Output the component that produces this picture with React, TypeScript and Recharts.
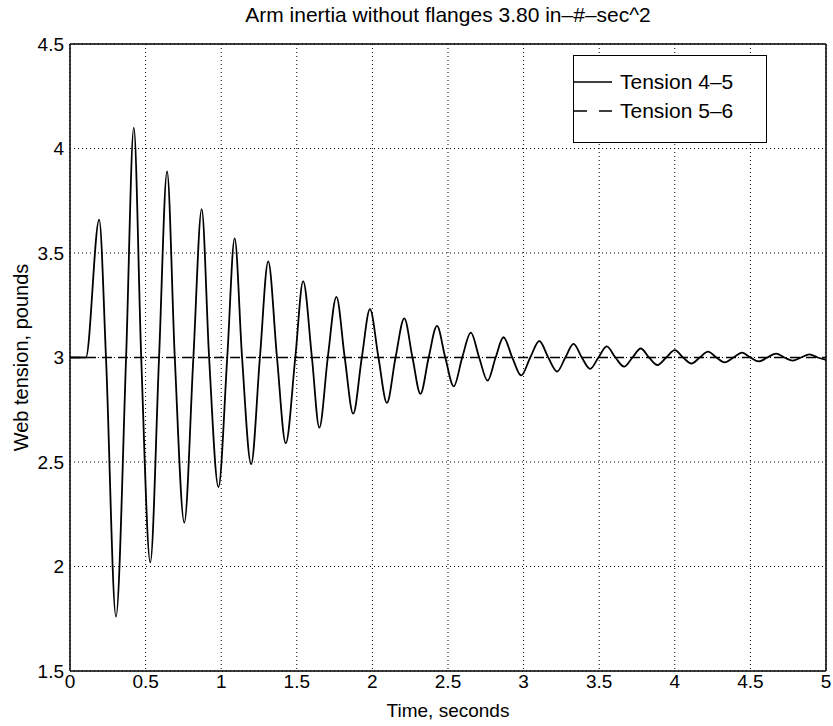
import React from 'react';
import { LineChart, Line, XAxis, YAxis, CartesianGrid, Legend } from 'recharts';

const timeTicks = [0, 0.5, 1, 1.5, 2, 2.5, 3, 3.5, 4, 4.5, 5];
const tensionTicks = [1.5, 2, 2.5, 3, 3.5, 4, 4.5];

const time45 = [
  0, 0.105, 0.193, 0.238, 0.304, 0.371, 0.422, 0.471, 0.531, 0.589, 0.642, 0.693, 0.756, 0.816, 0.871,
  0.92, 0.982, 1.04, 1.089, 1.138, 1.198, 1.256, 1.311, 1.369, 1.427, 1.49, 1.542, 1.6, 1.649, 1.705,
  1.762, 1.817, 1.873, 1.93, 1.984, 2.04, 2.096, 2.153, 2.211, 2.265, 2.318, 2.372, 2.427, 2.482, 2.538,
  2.594, 2.651, 2.706, 2.762, 2.815, 2.867, 2.925, 2.984, 3.044, 3.104, 3.163, 3.222, 3.276, 3.33, 3.385,
  3.44, 3.495, 3.55, 3.607, 3.665, 3.72, 3.775, 3.83, 3.885, 3.943, 4.0, 4.055, 4.11, 4.165, 4.22,
  4.275, 4.33, 4.388, 4.445, 4.5, 4.555, 4.612, 4.67, 4.725, 4.78, 4.835, 4.89, 4.945, 5.0,
];
const tension45 = [
  3, 3, 3.66, 3, 1.76, 3, 4.1, 3, 2.02, 3, 3.89, 3, 2.21, 3, 3.71,
  3, 2.38, 3, 3.57, 3, 2.49, 3, 3.46, 3, 2.59, 3, 3.365, 3, 2.664, 3,
  3.29, 3, 2.731, 3, 3.231, 3, 2.783, 3, 3.187, 3, 2.826, 3, 3.151, 3, 2.862,
  3, 3.119, 3, 2.889, 3, 3.097, 3, 2.914, 3, 3.079, 3, 2.933, 3, 3.065, 3,
  2.946, 3, 3.053, 3, 2.956, 3, 3.043, 3, 2.964, 3, 3.035, 3, 2.971, 3, 3.028,
  3, 2.977, 3, 3.023, 3, 2.981, 3, 3.019, 3, 2.985, 3, 3.015, 3, 2.988,
];
const time56 = [0, 5];
const tension56 = [3, 3];

const seriesNames = ['Tension 4\u20135', 'Tension 5\u20136'];

const data45 = time45.map((t, i) => ({ t, v: tension45[i] }));
const data56 = time56.map((t, i) => ({ t, v: tension56[i] }));

const FONT = '"Liberation Sans", Arial, Helvetica, sans-serif';

const LegendBox = () => (
  <div
    style={{
      width: 194,
      height: 88,
      border: '1.5px solid #000',
      background: '#fff',
      boxSizing: 'border-box',
      fontFamily: FONT,
      fontSize: 21,
      color: '#000',
      position: 'relative',
    }}
  >
    {seriesNames.map((name, i) => (
      <div key={name} style={{ position: 'absolute', left: 0, top: 13 + i * 29, height: 26, display: 'flex', alignItems: 'center' }}>
        <svg width={45} height={26} style={{ display: 'block' }}>
          <line x1={0} y1={13} x2={38} y2={13} stroke="#000" strokeWidth={1.5} strokeDasharray={i === 0 ? undefined : '13 12'} />
        </svg>
        <span style={{ marginLeft: 1, whiteSpace: 'nowrap' }}>{name}</span>
      </div>
    ))}
  </div>
);

export default function App() {
  return (
    <div style={{ position: 'absolute', left: 0, top: 0, width: 833, height: 726, background: '#fff' }}>
      <div
        style={{
          position: 'absolute',
          left: 70,
          width: 756,
          top: 3,
          textAlign: 'center',
          fontFamily: FONT,
          fontSize: 21,
          color: '#000',
        }}
      >
        Arm inertia without flanges 3.80 in–#–sec^2
      </div>
      <LineChart
        width={833}
        height={726}
        margin={{ top: 44, right: 7, bottom: 10, left: 20 }}
        style={{ position: 'absolute', left: 0, top: 0 }}
      >
        <CartesianGrid stroke="#000" strokeDasharray="1 3" strokeWidth={1} />
        <XAxis
          dataKey="t"
          type="number"
          domain={[0, 5]}
          ticks={timeTicks}
          allowDataOverflow
          height={45}
          axisLine={{ stroke: '#000', strokeWidth: 1.5 }}
          tickLine={false}
          tickSize={2}
          tick={{ fill: '#000', fontSize: 19, fontFamily: FONT }}
          tickMargin={2}
          label={{ value: 'Time, seconds', position: 'insideBottom', offset: -1, fill: '#000', fontSize: 19, fontFamily: FONT }}
        />
        <XAxis
          xAxisId="bm"
          dataKey="t"
          type="number"
          domain={[0, 5]}
          ticks={timeTicks}
          orientation="bottom"
          mirror
          axisLine={false}
          tick={false}
          tickSize={6}
          tickLine={{ stroke: '#000', strokeWidth: 1.5 }}
        />
        <XAxis
          xAxisId="top"
          dataKey="t"
          type="number"
          domain={[0, 5]}
          ticks={timeTicks}
          orientation="top"
          mirror
          axisLine={{ stroke: '#000', strokeWidth: 1.5 }}
          tick={false}
          tickSize={6}
          tickLine={{ stroke: '#000', strokeWidth: 1.5 }}
        />
        <YAxis
          type="number"
          domain={[1.5, 4.5]}
          ticks={tensionTicks}
          allowDataOverflow
          width={50}
          axisLine={{ stroke: '#000', strokeWidth: 1.5 }}
          tickLine={false}
          tickSize={2}
          tick={{ fill: '#000', fontSize: 19, fontFamily: FONT }}
          tickMargin={4}
          label={{ value: 'Web tension, pounds', angle: -90, position: 'insideLeft', offset: 1, style: { textAnchor: 'middle' }, fill: '#000', fontSize: 20, fontFamily: FONT }}
        />
        <YAxis
          yAxisId="lm"
          type="number"
          domain={[1.5, 4.5]}
          ticks={tensionTicks}
          orientation="left"
          mirror
          axisLine={false}
          tick={false}
          tickSize={6}
          tickLine={{ stroke: '#000', strokeWidth: 1.5 }}
        />
        <YAxis
          yAxisId="right"
          type="number"
          domain={[1.5, 4.5]}
          ticks={tensionTicks}
          orientation="right"
          mirror
          axisLine={{ stroke: '#000', strokeWidth: 1.5 }}
          tick={false}
          tickSize={6}
          tickLine={{ stroke: '#000', strokeWidth: 1.5 }}
        />
        <Legend
          layout="horizontal"
          verticalAlign="middle"
          align="center"
          wrapperStyle={{ position: 'absolute', left: 573, top: 55, width: 194, height: 88 }}
          content={() => <LegendBox />}
        />
        <Line
          data={data56}
          dataKey="v"
          name={seriesNames[1]}
          type="linear"
          stroke="#000"
          strokeWidth={1.5}
          strokeDasharray="10 6"
          dot={false}
          activeDot={false}
          isAnimationActive={false}
        />
        <Line
          data={data45}
          dataKey="v"
          name={seriesNames[0]}
          type="monotone"
          stroke="#000"
          strokeWidth={1.8}
          dot={false}
          activeDot={false}
          isAnimationActive={false}
        />
      </LineChart>
    </div>
  );
}
